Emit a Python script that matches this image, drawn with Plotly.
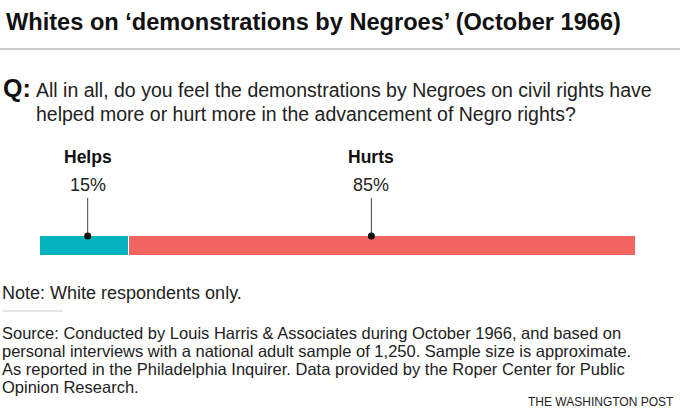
import plotly.graph_objects as go

# survey answers (share of white respondents)
answers = ["Helps", "Hurts"]
shares = [15, 85]
share_labels = ["15%", "85%"]
colors = ["#05b2bf", "#f1645f"]
# where each callout sits along the bar (percentage scale)
callout_x = [8, 55.6]

title = "Whites on \u2018demonstrations by Negroes\u2019 (October 1966)"
question = [
    "All in all, do you feel the demonstrations by Negroes on civil rights have",
    "helped more or hurt more in the advancement of Negro rights?",
]
note = "Note: White respondents only."
source = [
    "Source: Conducted by Louis Harris & Associates during October 1966, and based on",
    "personal interviews with a national adult sample of 1,250. Sample size is approximate.",
    "As reported in the Philadelphia Inquirer. Data provided by the Roper Center for Public",
    "Opinion Research.",
]
credit = "THE WASHINGTON POST"

W, H = 680, 412
REG = "Liberation Sans, Arial, sans-serif"


def px(x):
    return x / W


def py(y):
    return 1 - y / H


fig = go.Figure()

# stacked horizontal bar; y axis is 58 px tall measured up from bar bottom
for name, val, col in zip(answers, shares, colors):
    fig.add_trace(go.Bar(
        y=[10], x=[val], orientation="h", width=20, name=name,
        marker=dict(color=col, line=dict(color="white", width=1)),
        hoverinfo="x+name",
    ))

# leader lines and dots
for cx in callout_x:
    fig.add_trace(go.Scatter(
        x=[cx, cx], y=[20, 58], mode="lines",
        line=dict(color="#444", width=1), hoverinfo="skip", cliponaxis=False,
    ))
fig.add_trace(go.Scatter(
    x=callout_x, y=[20] * len(callout_x), mode="markers",
    marker=dict(color="#111", size=7), hoverinfo="skip", cliponaxis=False,
))

ann = []
ann.append(dict(text="<b>" + title + "</b>", x=px(4), y=py(22), xanchor="left", yanchor="middle",
                font=dict(family=REG, size=23.6, color="#111")))
ann.append(dict(text="<b>Q:</b>", x=px(1), y=py(88), xanchor="left", yanchor="middle",
                font=dict(family=REG, size=25, color="#111")))
for i, line in enumerate(question):
    ann.append(dict(text=line, x=px(34), y=py(90 + 24 * i), xanchor="left", yanchor="middle",
                    font=dict(family=REG, size=19.5, color="#222")))
for name, lab, cx in zip(answers, share_labels, callout_x):
    ann.append(dict(text="<b>" + name + "</b>", x=cx, xref="x", y=py(157), xanchor="center",
                    yanchor="middle", font=dict(family=REG, size=17.5, color="#111")))
    ann.append(dict(text=lab, x=cx, xref="x", y=py(185), xanchor="center", yanchor="middle",
                    font=dict(family=REG, size=18, color="#222")))
ann.append(dict(text=note, x=px(0), y=py(293), xanchor="left", yanchor="middle",
                font=dict(family=REG, size=18, color="#222")))
for i, line in enumerate(source):
    ann.append(dict(text=line, x=px(0), y=py(333 + 18 * i), xanchor="left", yanchor="middle",
                    font=dict(family=REG, size=16.5, color="#222")))
ann.append(dict(text=credit, x=px(676), y=py(402), xanchor="right", yanchor="middle",
                font=dict(family=REG, size=12, color="#222")))
for a in ann:
    a.setdefault("xref", "paper")
    a["yref"] = "paper"
    a["showarrow"] = False

fig.update_layout(
    width=W, height=H,
    margin=dict(l=0, r=0, t=0, b=0, pad=0),
    paper_bgcolor="white", plot_bgcolor="white",
    barmode="stack", showlegend=False, bargap=0,
    xaxis=dict(range=[0, 100], domain=[px(40), px(636)], visible=False, fixedrange=True),
    yaxis=dict(range=[0, 58], domain=[py(256), py(198)], visible=False, fixedrange=True),
    annotations=ann,
    shapes=[
        dict(type="line", xref="paper", yref="paper", x0=0, x1=1, y0=py(49), y1=py(49),
             line=dict(color="#999", width=1)),
        dict(type="line", xref="paper", yref="paper", x0=px(3), x1=px(63), y0=py(311), y1=py(311),
             line=dict(color="#ccc", width=1)),
    ],
)

fig.write_html("out.html", config={"displayModeBar": False},
               post_script="document.body.style.margin='0';")
